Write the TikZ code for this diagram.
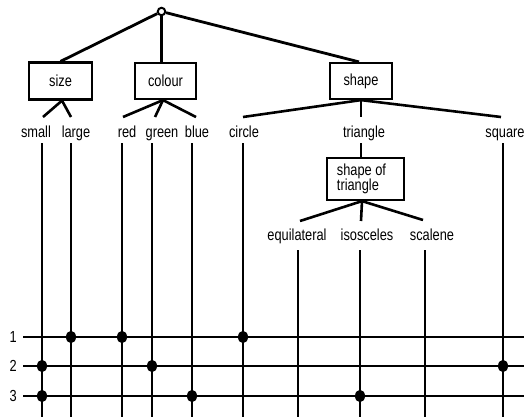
\documentclass[tikz,border=0pt]{standalone}
\usepackage{fontspec}
\setmainfont{Liberation Sans}[FakeStretch=0.8]
\usetikzlibrary{shapes.geometric}
\begin{document}
\begin{tikzpicture}[x=1pt,y=-1pt,
  lbl/.style={inner sep=0pt, anchor=base, font=\fontsize{16}{17}\selectfont},
  catbox/.style={draw, line width=2.2pt, inner sep=0pt, font=\fontsize{16}{17}\selectfont},
  branch/.style={line width=2.8pt},
  stub/.style={line width=2.6pt},
  wire/.style={line width=1.9pt},
  hit/.style={ellipse, fill, inner sep=0pt, minimum width=10pt, minimum height=12.5pt}
]
\useasboundingbox (0,0) rectangle (524,416);
% root
\node[circle, draw, line width=2pt, minimum size=7.5pt, inner sep=0pt] (root) at (161.5,11.5) {};
% category boxes
\node[catbox, minimum width=63pt, minimum height=37pt] (size) at (60.5,81) {size\hspace{8pt}};
\node[catbox, minimum width=61pt, minimum height=36pt] (colour) at (165.5,81) {colour};
\node[catbox, minimum width=62pt, minimum height=36pt] (shape) at (361,81) {shape};
\draw[branch] (root) -- (size.north);
\draw[branch] (root) -- (root |- colour.north);
\draw[branch] (root) -- ([xshift=-2pt]shape.north);
% value labels
\node[lbl] (small) at (36,137) {small};
\node[lbl] (large) at (76,137) {large};
\node[lbl] (red) at (127,137) {red};
\node[lbl] (green) at (162,137) {green};
\node[lbl] (blue) at (197,137) {blue};
\node[lbl] (circle) at (244,137) {circle};
\node[lbl] (triangle) at (364,137) {triangle};
\node[lbl] (square) at (505,137) {square};
% stub tips
\coordinate (tsmall) at (43,117);
\coordinate (tlarge) at (71,117);
\coordinate (tred) at (123,117);
\coordinate (tgreen) at (155,117);
\coordinate (tblue) at (196,117);
\coordinate (tcircle) at (243,117);
\coordinate (ttriangle) at (361,117);
\coordinate (tsquare) at (501,117);
\draw[stub] ([xshift=1.5pt]size.south) -- (tsmall);
\draw[stub] ([xshift=1.5pt]size.south) -- (tlarge);
\draw[stub] ([xshift=-2.5pt]colour.south) -- (tred);
\draw[stub] ([xshift=-2.5pt]colour.south) -- (tgreen);
\draw[stub] ([xshift=-2.5pt]colour.south) -- (tblue);
\draw[stub] (shape.south) -- (tcircle);
\draw[stub] (shape.south) -- (ttriangle);
\draw[stub] (shape.south) -- (tsquare);
% shape of triangle
\node[catbox, minimum width=77pt, minimum height=42pt, align=left, font=\fontsize{16}{15.5}\selectfont] (stb) at (365.5,179) {\hspace*{-8pt}shape of\\\hspace*{-8pt}triangle};
\coordinate (trbot) at (361,143);
\draw[wire] (trbot) -- (trbot |- stb.north);
\node[lbl] (equilateral) at (297,240) {equilateral};
\node[lbl] (isosceles) at (367,240) {isosceles};
\node[lbl] (scalene) at (432,240) {scalene};
\coordinate (tequi) at (300,221);
\coordinate (tisos) at (361,221);
\coordinate (tscal) at (423,220);
\draw[stub] ([xshift=-3.5pt]stb.south) -- (tequi);
\draw[stub] ([xshift=-3.5pt]stb.south) -- (tisos);
\draw[stub] ([xshift=-3.5pt]stb.south) -- (tscal);
% columns
\foreach \n/\x/\y in {csmall/42/143, clarge/71/143, cred/122/143, cgreen/152/143, cblue/192/143, ccircle/243/143, csquare/503/143, cequi/298/250, cisos/360/250, cscal/425/250} {
  \coordinate (\n) at (\x,\y);
  \coordinate (\n b) at (\x,417);
  \draw[wire] (\n) -- (\n b);
}
% rows
\foreach \r/\y in {1/337, 2/366, 3/396} {
  \node[inner sep=0pt, anchor=base east, font=\fontsize{16}{17}\selectfont] (num\r) at (17,\y+5) {\r};
  \coordinate (row\r) at (23,\y);
  \coordinate (row\r e) at (525,\y);
  \draw[wire] (row\r) -- (row\r e);
}
% hits
\node[hit] (h1a) at (clarge |- row1) {};
\node[hit] (h1b) at (cred |- row1) {};
\node[hit] (h1c) at (ccircle |- row1) {};
\node[hit] (h2a) at (csmall |- row2) {};
\node[hit] (h2b) at (cgreen |- row2) {};
\node[hit] (h2c) at (csquare |- row2) {};
\node[hit] (h3a) at (csmall |- row3) {};
\node[hit] (h3b) at (cblue |- row3) {};
\node[hit] (h3c) at (cisos |- row3) {};
\end{tikzpicture}
\end{document}
